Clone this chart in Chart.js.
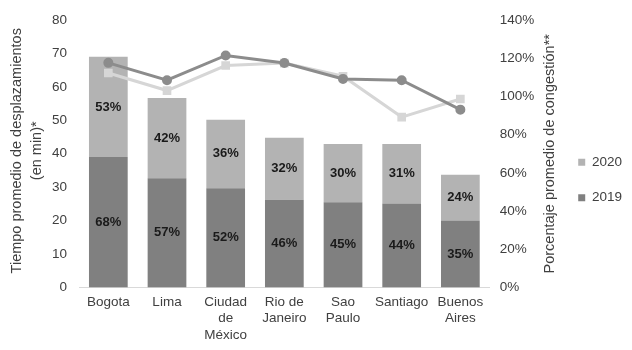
<!DOCTYPE html>
<html>
<head>
<meta charset="utf-8">
<script src="https://cdn.jsdelivr.net/npm/chart.js@4"></script>
<style>
  body { margin: 0; background: #fff; }
  #wrap { width: 632px; height: 350px; }
</style>
</head>
<body>
<div id="wrap"><canvas id="chart" width="632" height="350"></canvas></div>
<script>
// ciudades
const ciudades = [["Bogota"], ["Lima"], ["Ciudad", "de", "México"], ["Rio de", "Janeiro"], ["Sao", "Paulo"], ["Santiago"], ["Buenos", "Aires"]];

// tiempo promedio (min), barras apiladas
const tiempo2019 = [39, 32.7, 29.7, 26.2, 25.5, 25.1, 20.0];
const tiempo2020 = [30, 24, 20.5, 18.6, 17.4, 17.8, 13.7];

// etiquetas dentro de las barras
const etiquetas2019 = ["68%", "57%", "52%", "46%", "45%", "44%", "35%"];
const etiquetas2020 = ["53%", "42%", "36%", "32%", "30%", "31%", "24%"];

// congestion (%), lineas sobre eje derecho
const congestion2019 = [117.6, 108.5, 121.5, 117.5, 109.2, 108.5, 93.1];
const congestion2020 = [112.3, 103.1, 116.2, 117.5, 110.6, 89.2, 98.7];

const tituloIzquierdo = ["Tiempo promedio de desplazamientos", "(en min)*"];
const tituloDerecho = "Porcentaje promedio de congestión**";

const fuente = "'Liberation Sans', Arial, sans-serif";
const colorTexto = "#404040";

// texto vertical (de abajo hacia arriba)
function textoVertical(ctx, texto, x, y) {
    ctx.save();
    ctx.translate(x, y);
    ctx.rotate(-Math.PI / 2);
    ctx.fillText(texto, 0, 0);
    ctx.restore();
}

// dibuja los porcentajes en el centro de cada barra y los titulos de los ejes
const etiquetasPlugin = {
    id: "etiquetas",
    afterDatasetsDraw(chart) {
        const ctx = chart.ctx;
        ctx.save();
        ctx.font = "bold 13px " + fuente;
        ctx.fillStyle = "#1a1a1a";
        ctx.textAlign = "center";
        ctx.textBaseline = "middle";
        [[0, etiquetas2019], [1, etiquetas2020]].forEach(([idx, textos]) => {
            chart.getDatasetMeta(idx).data.forEach((bar, i) => {
                ctx.fillText(textos[i], bar.x, (bar.y + bar.base) / 2);
            });
        });
        ctx.restore();
    },
    afterDraw(chart) {
        const ctx = chart.ctx;
        const medio = (chart.chartArea.top + chart.chartArea.bottom) / 2;
        ctx.save();
        ctx.font = "14.5px " + fuente;
        ctx.fillStyle = colorTexto;
        ctx.textAlign = "center";
        ctx.textBaseline = "middle";
        textoVertical(ctx, tituloIzquierdo[0], 17, medio - 3);
        textoVertical(ctx, tituloIzquierdo[1], 37, medio - 3);
        textoVertical(ctx, tituloDerecho, chart.scales.y1.right - 6, medio);
        ctx.restore();
    }
};

new Chart(document.getElementById("chart"), {
    data: {
        labels: ciudades,
        datasets: [
            {
                type: "bar",
                label: "2019",
                data: tiempo2019,
                backgroundColor: "#808080",
                yAxisID: "y",
                stack: "t",
                order: 2,
                barPercentage: 0.66,
                categoryPercentage: 1
            },
            {
                type: "bar",
                label: "2020",
                data: tiempo2020,
                backgroundColor: "#b3b3b3",
                yAxisID: "y",
                stack: "t",
                order: 2,
                barPercentage: 0.66,
                categoryPercentage: 1
            },
            {
                type: "line",
                label: "Congestión 2019",
                data: congestion2019,
                borderColor: "#8c8c8c",
                backgroundColor: "#8c8c8c",
                borderWidth: 3,
                pointStyle: "circle",
                pointRadius: 3.5,
                yAxisID: "y1",
                order: 0
            },
            {
                type: "line",
                label: "Congestión 2020",
                data: congestion2020,
                borderColor: "#d6d6d6",
                backgroundColor: "#d6d6d6",
                borderWidth: 3,
                pointStyle: "rect",
                pointRadius: 4,
                yAxisID: "y1",
                order: 1
            }
        ]
    },
    options: {
        responsive: false,
        animation: false,
        layout: { padding: { top: 10, right: 0, left: 0, bottom: 0 } },
        plugins: {
            tooltip: { enabled: false },
            legend: {
                position: "right",
                labels: {
                    filter: item => item.text === "2019" || item.text === "2020",
                    sort: (a, b) => b.text.localeCompare(a.text),
                    boxWidth: 7,
                    boxHeight: 7,
                    padding: 22,
                    color: colorTexto,
                    font: { size: 13.5, family: fuente }
                }
            }
        },
        scales: {
            x: {
                stacked: true,
                grid: { display: false, drawTicks: false },
                border: { color: "#d9d9d9" },
                ticks: {
                    color: colorTexto,
                    padding: 7,
                    maxRotation: 0,
                    autoSkip: false,
                    font: { size: 13.5, family: fuente }
                }
            },
            y: {
                stacked: true,
                position: "left",
                min: 0,
                max: 80,
                grid: { display: false, drawTicks: false },
                border: { display: false },
                afterFit: scale => { scale.width = 79; },
                ticks: {
                    stepSize: 10,
                    color: colorTexto,
                    padding: 12,
                    font: { size: 13.5, family: fuente }
                }
            },
            y1: {
                position: "right",
                min: 0,
                max: 140,
                grid: { display: false, drawTicks: false },
                border: { display: false },
                afterFit: scale => { scale.width += 12; },
                ticks: {
                    stepSize: 20,
                    color: colorTexto,
                    padding: 10,
                    callback: v => v + "%",
                    font: { size: 13.5, family: fuente }
                }
            }
        }
    },
    plugins: [etiquetasPlugin]
});
</script>
</body>
</html>
